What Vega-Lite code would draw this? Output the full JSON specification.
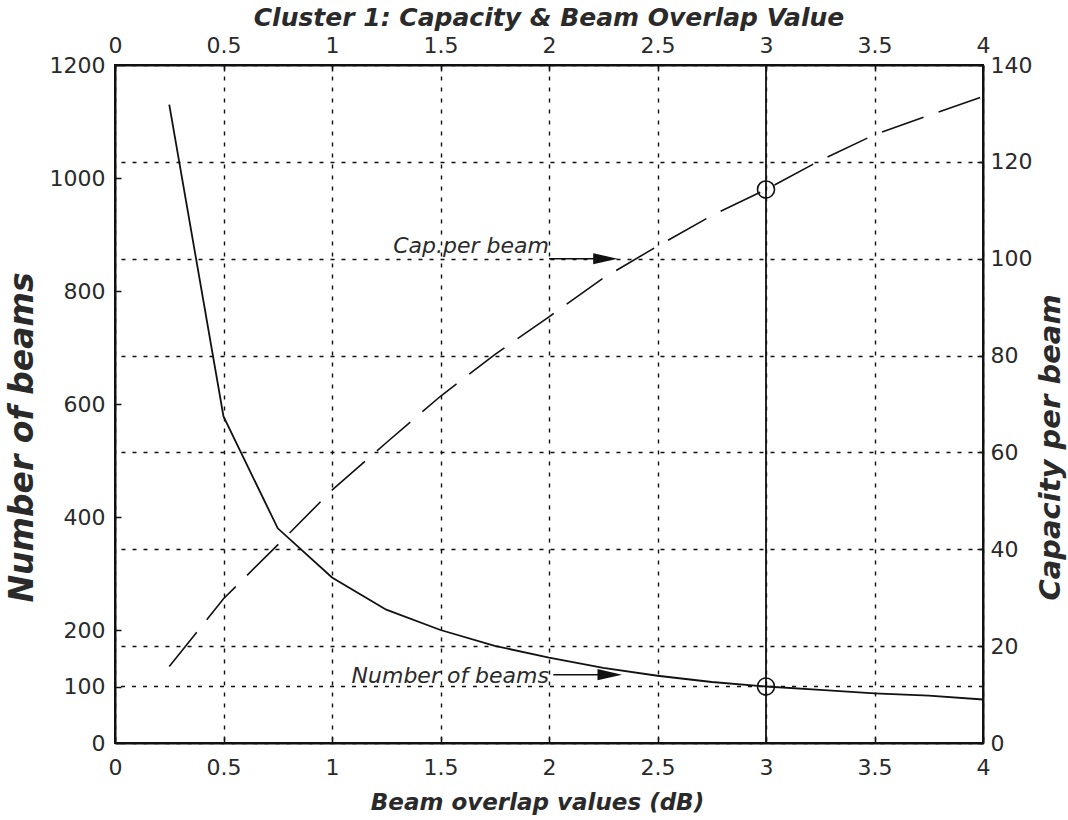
{
  "$schema": "https://vega.github.io/schema/vega-lite/v6.json",
  "width": 868,
  "height": 678,
  "autosize": "none",
  "padding": {"left": 115, "top": 65, "right": 85, "bottom": 77},
  "background": "white",
  "config": {
    "font": "DejaVu Sans",
    "view": {"stroke": "#111", "strokeWidth": 2},
    "axis": {
      "domainColor": "#111", "domainWidth": 2,
      "tickColor": "#111", "tickWidth": 1.5, "tickSize": -6,
      "labelFont": "DejaVu Sans", "labelFontSize": 22, "labelColor": "#2a2a2a",
      "titleFont": "DejaVu Sans", "titleFontStyle": "italic", "titleFontWeight": "bold", "titleColor": "#2a2a2a",
      "gridColor": "#111", "gridDash": [4, 7], "gridWidth": 1.4, "gridOpacity": 1
    }
  },
  "title": {
    "text": "Cluster 1: Capacity & Beam Overlap Value",
    "font": "DejaVu Sans", "fontSize": 25, "fontStyle": "italic", "fontWeight": "bold",
    "color": "#2a2a2a", "anchor": "middle", "dy": 1
  },
  "datasets": {
    "curves": [
      {"overlap": 0.25, "beams": 1130, "cap": 15.8},
      {"overlap": 0.5, "beams": 578, "cap": 29.8},
      {"overlap": 0.75, "beams": 380, "cap": 40.9},
      {"overlap": 1.0, "beams": 293, "cap": 52.2},
      {"overlap": 1.25, "beams": 236, "cap": 62.0},
      {"overlap": 1.5, "beams": 200, "cap": 71.6},
      {"overlap": 1.75, "beams": 172, "cap": 80.2},
      {"overlap": 2.0, "beams": 151, "cap": 88.0},
      {"overlap": 2.25, "beams": 133, "cap": 96.0},
      {"overlap": 2.5, "beams": 119, "cap": 102.6},
      {"overlap": 2.75, "beams": 108, "cap": 108.9},
      {"overlap": 3.0, "beams": 100, "cap": 114.3},
      {"overlap": 3.25, "beams": 94, "cap": 120.3},
      {"overlap": 3.5, "beams": 88, "cap": 125.6},
      {"overlap": 3.75, "beams": 84, "cap": 129.6},
      {"overlap": 4.0, "beams": 77, "cap": 133.5}
    ]
  },
  "layer": [
    {
      "layer": [
        {
          "data": {"name": "curves"},
          "mark": {"type": "line", "color": "#111", "strokeWidth": 1.8},
          "encoding": {
            "x": {
              "field": "overlap", "type": "quantitative",
              "scale": {"domain": [0, 4], "nice": false, "zero": false},
              "axis": {
                "orient": "bottom", "values": [0, 0.5, 1, 1.5, 2, 2.5, 3, 3.5, 4], "format": "~g",
                "grid": true, "labelPadding": 20, "labelFlush": false,
                "title": "Beam overlap values (dB)", "titleFontSize": 23,
                "titleX": 422, "titleY": 59, "titleBaseline": "middle", "titleAlign": "center"
              }
            },
            "y": {
              "field": "beams", "type": "quantitative",
              "scale": {"domain": [0, 1200], "nice": false},
              "axis": {
                "orient": "left", "values": [0, 100, 200, 400, 600, 800, 1000, 1200], "format": "d",
                "grid": false, "labelPadding": 16, "labelFlush": false,
                "title": "Number of beams", "titleFontSize": 33,
                "titleX": -93, "titleY": 372, "titleAngle": 270, "titleBaseline": "middle", "titleAlign": "center"
              }
            }
          }
        },
        {
          "data": {"values": [{}]},
          "mark": {"type": "rule", "color": "#111", "strokeWidth": 1.4, "strokeDash": [4, 7]},
          "encoding": {"y": {"datum": 100}}
        },
        {
          "data": {"values": [{}]},
          "mark": {"type": "rule", "color": "#111", "strokeWidth": 1.8},
          "encoding": {"x": {"datum": 3}}
        },
        {
          "data": {"values": [{}]},
          "mark": {"type": "point", "shape": "circle", "size": 290, "filled": false, "color": "#111", "strokeWidth": 1.6, "opacity": 1},
          "encoding": {"x": {"datum": 3}, "y": {"datum": 100}}
        },
        {
          "data": {"values": [{}]},
          "mark": {"type": "text", "text": "Number of beams", "font": "DejaVu Sans", "fontStyle": "italic", "fontSize": 22, "align": "right", "baseline": "alphabetic", "color": "#2a2a2a"},
          "encoding": {"x": {"datum": 2.0}, "y": {"datum": 106}}
        },
        {
          "data": {"values": [{}]},
          "mark": {"type": "rule", "color": "#111", "strokeWidth": 1.5},
          "encoding": {"x": {"datum": 2.02}, "x2": {"datum": 2.28}, "y": {"datum": 121}}
        },
        {
          "data": {"values": [{}]},
          "mark": {"type": "point", "shape": "M-1,-0.45L1,0L-1,0.45Z", "size": 600, "filled": true, "color": "#111", "opacity": 1},
          "encoding": {"x": {"datum": 2.28}, "y": {"datum": 121}}
        }
      ]
    },
    {
      "layer": [
        {
          "data": {"name": "curves"},
          "mark": {"type": "line", "color": "#111", "strokeWidth": 1.6, "strokeDash": [44, 16]},
          "encoding": {
            "x": {
              "field": "overlap", "type": "quantitative",
              "scale": {"domain": [0, 4], "nice": false, "zero": false},
              "axis": {
                "orient": "top", "values": [0, 0.5, 1, 1.5, 2, 2.5, 3, 3.5, 4], "format": "~g",
                "grid": false, "labelPadding": 14, "labelFlush": false, "title": null
              }
            },
            "y": {
              "field": "cap", "type": "quantitative",
              "scale": {"domain": [0, 140], "nice": false},
              "axis": {
                "orient": "right", "values": [0, 20, 40, 60, 80, 100, 120, 140], "format": "d",
                "grid": true, "labelPadding": 13, "labelFlush": false,
                "title": "Capacity per beam", "titleFontSize": 29,
                "titleX": 67, "titleY": 382, "titleAngle": 270, "titleBaseline": "middle", "titleAlign": "center"
              }
            }
          }
        },
        {
          "data": {"values": [{}]},
          "mark": {"type": "point", "shape": "circle", "size": 290, "filled": false, "color": "#111", "strokeWidth": 1.6, "opacity": 1},
          "encoding": {"x": {"datum": 3}, "y": {"datum": 114.3}}
        },
        {
          "data": {"values": [{}]},
          "mark": {"type": "text", "text": "Cap.per beam", "font": "DejaVu Sans", "fontStyle": "italic", "fontSize": 22, "align": "right", "baseline": "alphabetic", "color": "#2a2a2a"},
          "encoding": {"x": {"datum": 2.0}, "y": {"datum": 101.2}}
        },
        {
          "data": {"values": [{}]},
          "mark": {"type": "rule", "color": "#111", "strokeWidth": 1.5},
          "encoding": {"x": {"datum": 2.0}, "x2": {"datum": 2.26}, "y": {"datum": 100}}
        },
        {
          "data": {"values": [{}]},
          "mark": {"type": "point", "shape": "M-1,-0.45L1,0L-1,0.45Z", "size": 600, "filled": true, "color": "#111", "opacity": 1},
          "encoding": {"x": {"datum": 2.26}, "y": {"datum": 100}}
        }
      ]
    }
  ],
  "resolve": {"scale": {"y": "independent"}, "axis": {"x": "independent", "y": "independent"}}
}
